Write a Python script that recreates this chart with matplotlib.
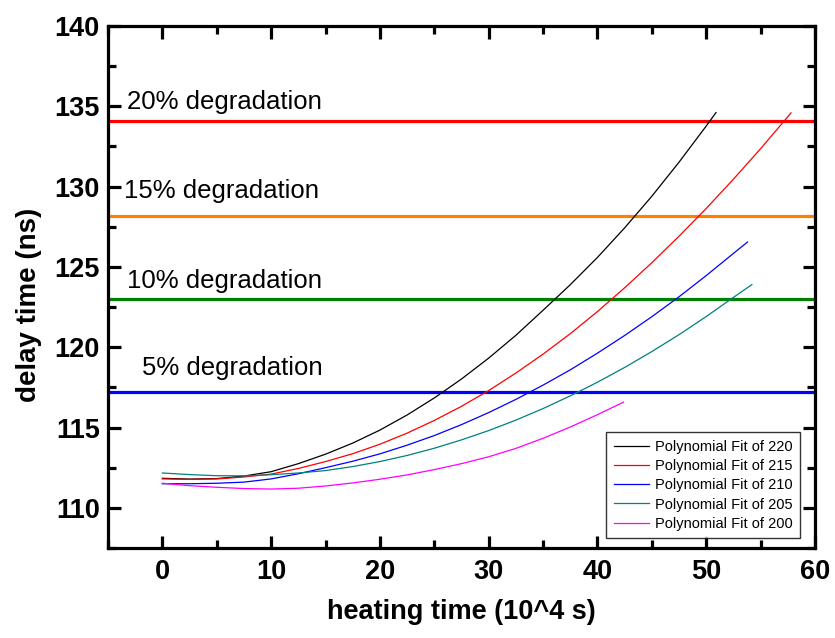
import matplotlib
matplotlib.use("Agg")
import matplotlib.pyplot as plt
from matplotlib.ticker import MultipleLocator

# ---- data ----
x220 = [0, 2.5, 5, 7.5, 10, 12.5, 15, 17.5, 20, 22.5, 25, 27.5, 30, 32.5, 35, 37.5, 40, 42.5, 45, 47.5, 50, 50.9]
y220 = [111.84, 111.79, 111.82, 111.98, 112.25, 112.75, 113.34, 114.03, 114.84, 115.78, 116.84, 118.02,
        119.32, 120.74, 122.3, 123.89, 125.59, 127.43, 129.4, 131.52, 133.77, 134.61]

x215 = [0, 2.5, 5, 7.5, 10, 12.5, 15, 17.5, 20, 22.5, 25, 27.5, 30, 32.5, 35, 37.5, 40, 42.5, 45, 47.5, 50, 52.5, 55, 57.8]
y215 = [111.8, 111.77, 111.8, 111.92, 112.1, 112.45, 112.88, 113.37, 113.96, 114.65, 115.44, 116.32,
        117.3, 118.39, 119.57, 120.84, 122.22, 123.7, 125.26, 126.91, 128.64, 130.46, 132.36, 134.59]

x210 = [0, 2.5, 5, 7.5, 10, 12.5, 15, 17.5, 20, 22.5, 25, 27.5, 30, 32.5, 35, 37.5, 40, 42.5, 45, 47.5, 50, 52.5, 53.8]
y210 = [111.5, 111.5, 111.53, 111.6, 111.8, 112.12, 112.5, 112.9, 113.36, 113.9, 114.5, 115.18,
        115.93, 116.75, 117.64, 118.59, 119.63, 120.73, 121.9, 123.14, 124.46, 125.84, 126.55]

x205 = [0, 2.5, 5, 7.5, 10, 12.5, 15, 17.5, 20, 22.5, 25, 27.5, 30, 32.5, 35, 37.5, 40, 42.5, 45, 47.5, 50, 52.5, 54.2]
y205 = [112.17, 112.07, 112.0, 111.99, 112.06, 112.17, 112.32, 112.57, 112.88, 113.26, 113.71, 114.23,
        114.81, 115.46, 116.18, 116.97, 117.82, 118.74, 119.73, 120.78, 121.91, 123.1, 123.9]

x200 = [0, 2.5, 5, 7.5, 10, 12.5, 15, 17.5, 20, 22.5, 25, 27.5, 30, 32.5, 35, 37.5, 40, 42.4]
y200 = [111.53, 111.38, 111.28, 111.2, 111.17, 111.22, 111.36, 111.55, 111.78, 112.05, 112.38, 112.75,
        113.18, 113.7, 114.33, 115.03, 115.8, 116.58]

fit_labels = ["Polynomial Fit of 220", "Polynomial Fit of 215", "Polynomial Fit of 210",
              "Polynomial Fit of 205", "Polynomial Fit of 200"]

degr_levels = [117.2, 123.0, 128.2, 134.1]
degr_labels = ["5% degradation", "10% degradation", "15% degradation", "20% degradation"]
degr_label_x = [-1.9, -3.25, -3.5, -3.25]
degr_label_y = [118.7, 124.1, 129.7, 135.3]

x_ticks = [0, 10, 20, 30, 40, 50, 60]
y_ticks = [110, 115, 120, 125, 130, 135, 140]

# ---- styling ----
plt.rcParams['font.family'] = ['Liberation Sans', 'DejaVu Sans']
fig = plt.figure(figsize=(8.35, 6.38), dpi=100)
ax = fig.add_axes([0.1293, 0.1411, 0.976 - 0.1293, 0.9592 - 0.1411])

degr_colors = ["#0000FF", "#008000", "#FF8000", "#FF0000"]
for lvl, col in zip(degr_levels, degr_colors):
    ax.axhline(lvl, color=col, lw=2.3, zorder=2)
for lab, lx, ly in zip(degr_labels, degr_label_x, degr_label_y):
    ax.text(lx, ly, lab, fontsize=18.5, va='center', ha='left', color='black')

fit_colors = ["#000000", "#FF0000", "#0000FF", "#008080", "#FF00FF"]
series = [(x220, y220), (x215, y215), (x210, y210), (x205, y205), (x200, y200)]
for (xs, ys), col, lab in zip(series, fit_colors, fit_labels):
    ax.plot(xs, ys, color=col, lw=0.9, label=lab, zorder=3)

ax.set_xlim(-5, 60)
ax.set_ylim(107.5, 140)
ax.set_xticks(x_ticks)
ax.set_yticks(y_ticks)
ax.xaxis.set_minor_locator(MultipleLocator(5))
ax.yaxis.set_minor_locator(MultipleLocator(2.5))

for s in ax.spines.values():
    s.set_linewidth(2.3)
ax.tick_params(which='both', direction='in', top=True, right=True, width=2.3)
ax.tick_params(which='major', length=9, labelsize=19.5)
ax.tick_params(axis='y', which='major', pad=6)
ax.tick_params(axis='x', which='major', pad=8)
ax.tick_params(which='minor', length=5.5)
for t in ax.get_xticklabels() + ax.get_yticklabels():
    t.set_fontweight('bold')

ax.set_xlabel("heating time (10^4 s)", fontsize=19.5, fontweight='bold', labelpad=10)
ax.set_ylabel("delay time (ns)", fontsize=20, fontweight='bold')
ax.yaxis.set_label_coords(-0.0934, 0.4655)

leg = ax.legend(loc='lower right', bbox_to_anchor=(0.979, 0.019), borderaxespad=0,
                fontsize=10.5, frameon=True, fancybox=False, handlelength=2.4,
                labelspacing=0.36, handletextpad=0.45, borderpad=0.5)
leg.get_frame().set_edgecolor('black')
leg.get_frame().set_linewidth(1.0)

fig.savefig("out.png", dpi=100)
